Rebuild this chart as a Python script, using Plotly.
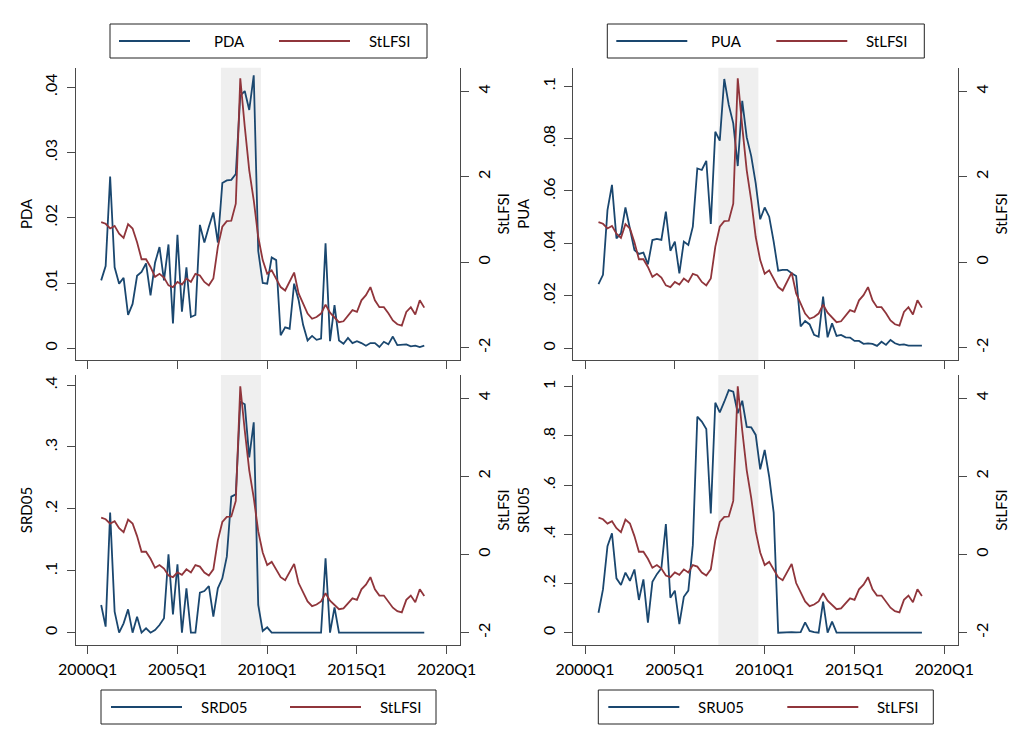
import plotly.graph_objects as go

# ---------------- data (quarterly, 2000Q4 .. 2018Q4) ----------------
quarters = [f"{y}Q{q}" for y in range(2000, 2019) for q in range(1, 5)]
quarters = quarters[quarters.index("2000Q4"):quarters.index("2018Q4") + 1]

stlfsi = [0.94, 0.90, 0.79, 0.85, 0.67, 0.57, 0.89, 0.79, 0.47, 0.07,
          0.07, -0.11, -0.34, -0.27, -0.36, -0.54, -0.58, -0.46, -0.52, -0.38,
          -0.46, -0.27, -0.31, -0.46, -0.54, -0.38, 0.36, 0.83, 0.96, 0.97,
          1.37, 4.30, 3.17, 2.15, 1.45, 0.59, 0.05, -0.27, -0.19, -0.38,
          -0.58, -0.66, -0.43, -0.24, -0.73, -0.97, -1.20, -1.32, -1.28, -1.20,
          -0.99, -1.18, -1.28, -1.40, -1.38, -1.24, -1.12, -1.16, -0.89, -0.77,
          -0.58, -0.89, -1.05, -1.05, -1.19, -1.36, -1.45, -1.48, -1.16, -1.05,
          -1.22, -0.89, -1.06]

pda = [.0104, .0126, .0263, .0124, .0099, .0108, .0051, .0068, .0111, .0117,
       .0130, .0081, .0131, .0155, .0104, .0159, .0038, .0174, .0056, .0124,
       .0048, .0051, .0189, .0162, .0186, .0208, .0162, .0253, .0257, .0258,
       .0267, .0387, .0394, .0365, .0418, .0149, .0100, .0099, .0139, .0135,
       .0020, .0032, .0030, .0099, .0074, .0036, .0012, .0019, .0013, .0015,
       .0161, .0011, .0066, .0012, .0007, .0016, .0008, .0011, .0008, .0004,
       .0008, .0008, .0002, .0010, .0006, .0018, .0005, .0005, .0006, .0003,
       .0004, .0002, .0004]

pua = [.0245, .0280, .0527, .0623, .0419, .0438, .0537, .0451, .0375, .0360,
       .0365, .0320, .0413, .0417, .0413, .0521, .0372, .0407, .0286, .0407,
       .0394, .0464, .0686, .0680, .0715, .0474, .0826, .0792, .1027, .0928,
       .0858, .0695, .0944, .0804, .0733, .0629, .0492, .0537, .0502, .0407,
       .0296, .0299, .0299, .0286, .0276, .0083, .0104, .0091, .0051, .0044,
       .0197, .0042, .0095, .0047, .0051, .0042, .0041, .0028, .0028, .0017,
       .0019, .0017, .0009, .0025, .0013, .0032, .0019, .0013, .0015, .0010,
       .0010, .0008, .0010]

srd05 = [.0447, .0097, .1939, .0339, .0, .0151, .0377, .0, .0258, .0,
         .0070, .0, .0043, .0124, .0232, .1265, .0296, .1104, .0, .0716,
         .0, .0, .0646, .0673, .0754, .0258, .0716, .0878, .1228, .2197,
         .2235, .3732, .3689, .2833, .3398, .0447, .0027, .0086, .0, .0,
         .0, .0, .0, .0, .0, .0, .0, .0, .0, .0,
         .1201, .0, .0409, .0, .0, .0, .0, .0, .0, .0,
         .0, .0, .0, .0, .0, .0, .0, .0, .0, .0,
         .0, .0, .0]

sru05 = [.081, .176, .352, .404, .221, .194, .244, .211, .257, .133,
         .217, .041, .207, .238, .262, .442, .142, .171, .035, .146,
         .171, .356, .878, .858, .828, .485, .935, .896, .939, .986,
         .980, .892, .943, .837, .835, .804, .664, .743, .634, .488,
         .000, .001, .003, .002, .001, .002, .042, .007, .002, .000,
         .126, .000, .045, .000, .000, .000, .000, .000, .000, .000,
         .000, .000, .000, .000, .000, .000, .000, .000, .000, .000,
         .000, .000, .000]

crisis_start, crisis_end = "2007Q3", "2009Q3"
xtick_labels = ["2000Q1", "2005Q1", "2010Q1", "2015Q1", "2020Q1"]


def qnum(label):
    y, q = label.split("Q")
    return int(y) + (int(q) - 1) / 4.0


xq = [qnum(q) for q in quarters]
xtick_vals = [qnum(t) for t in xtick_labels]

# ---------------- styling ----------------
W, H = 1020, 744
BLUE = "#1a476f"
RED = "#90353b"
AX = "#4a4a4a"
FONT = "Lato"

panels = [
    dict(name="PDA", y=pda, tv=[0, .01, .02, .03, .04], tt=["0", ".01", ".02", ".03", ".04"],
         rng=[-0.00179, 0.04297], xd=(76, 460), yd=(67.7, 360), rr=[-2.285, 4.549], bottom=False),
    dict(name="PUA", y=pua, tv=[0, .02, .04, .06, .08, .1], tt=["0", ".02", ".04", ".06", ".08", ".1"],
         rng=[-0.00446, 0.1070], xd=(573.3, 957.7), yd=(67.7, 360), rr=[-2.285, 4.549], bottom=False),
    dict(name="SRD05", y=srd05, tv=[0, .1, .2, .3, .4], tt=["0", ".1", ".2", ".3", ".4"],
         rng=[-0.0199, 0.4163], xd=(76, 460), yd=(375, 645), rr=[-2.314, 4.588], bottom=True),
    dict(name="SRU05", y=sru05, tv=[0, .2, .4, .6, .8, 1], tt=["0", ".2", ".4", ".6", ".8", "1"],
         rng=[-0.05, 1.0476], xd=(573.3, 957.7), yd=(375, 645), rr=[-2.314, 4.588], bottom=True),
]

fig = go.Figure()
layout = dict(width=W, height=H, margin=dict(l=0, r=0, t=0, b=0),
              paper_bgcolor="white", plot_bgcolor="white", showlegend=False,
              font=dict(family=FONT, size=15, color="black"))
shapes = []
annotations = []

xrange = [1999.348, 2020.741]

for k, p in enumerate(panels):
    xi = k + 1
    yl = 2 * k + 1
    yr = 2 * k + 2
    xname = "x" if xi == 1 else f"x{xi}"
    ylname = "y" if yl == 1 else f"y{yl}"
    yrname = f"y{yr}"
    xkey = "xaxis" if xi == 1 else f"xaxis{xi}"
    ylkey = "yaxis" if yl == 1 else f"yaxis{yl}"
    yrkey = f"yaxis{yr}"

    xdom = [p["xd"][0] / W, p["xd"][1] / W]
    ydom = [1 - p["yd"][1] / H, 1 - p["yd"][0] / H]

    layout[xkey] = dict(domain=xdom, range=xrange, anchor=ylname,
                        tickmode="array", tickvals=xtick_vals, ticktext=xtick_labels,
                        showticklabels=p["bottom"], showline=True, linecolor=AX, linewidth=1.3,
                        ticks="outside", ticklen=8, tickcolor=AX, tickwidth=1.3,
                        ticklabelstandoff=2,
                        showgrid=False, zeroline=False, automargin=False,
                        tickfont=dict(size=16, family=FONT, color="black"))
    layout[ylkey] = dict(domain=ydom, range=p["rng"], anchor=xname,
                         tickmode="array", tickvals=p["tv"], ticktext=p["tt"], tickangle=-90,
                         showline=True, linecolor=AX, linewidth=1.3,
                         ticks="outside", ticklen=8, tickcolor=AX, tickwidth=1.3,
                         ticklabelstandoff=3,
                         showgrid=False, zeroline=False, automargin=False,
                         tickfont=dict(size=16, family=FONT, color="black"),
                         title=dict(text=p["name"], font=dict(size=15, family=FONT, color="black"),
                                    standoff=5))
    layout[yrkey] = dict(range=p["rr"], anchor=xname, overlaying=ylname, side="right",
                         tickmode="array", tickvals=[-2, 0, 2, 4], ticktext=["-2", "0", "2", "4"],
                         tickangle=-90, showline=True, linecolor=AX, linewidth=1.3,
                         ticks="outside", ticklen=8, tickcolor=AX, tickwidth=1.3,
                         ticklabelstandoff=2,
                         showgrid=False, zeroline=False, automargin=False,
                         tickfont=dict(size=16, family=FONT, color="black"),
                         title=dict(text="StLFSI", font=dict(size=15, family=FONT, color="black"),
                                    standoff=6))

    # crisis shading
    shapes.append(dict(type="rect", xref=xname, yref=f"{ylname} domain",
                       x0=qnum(crisis_start) - 0.08, x1=qnum(crisis_end) + 0.15, y0=0, y1=1,
                       fillcolor="#efefef", line=dict(width=0), layer="below"))

    fig.add_trace(go.Scatter(x=xq, y=p["y"], mode="lines", name=p["name"],
                             line=dict(color=BLUE, width=1.8), xaxis=xname, yaxis=ylname))
    fig.add_trace(go.Scatter(x=xq, y=stlfsi, mode="lines", name="StLFSI",
                             line=dict(color=RED, width=1.8), xaxis=xname, yaxis=yrname))

    # legend box (manual, Stata style)
    off = 0 if k in (0, 2) else 497.3
    if not p["bottom"]:
        bx0, bx1, by0, by1 = 110, 427, 24, 58
        k1, t1, k2, t2 = (119, 190), 212, (279, 350), 367
    else:
        bx0, bx1, by0, by1 = 101, 436, 690, 724
        k1, t1, k2, t2 = (111, 182), 199, (290, 361), 378
    cy = (by0 + by1) / 2
    shapes.append(dict(type="rect", xref="paper", yref="paper",
                       x0=(bx0 + off) / W, x1=(bx1 + off) / W,
                       y0=1 - by1 / H, y1=1 - by0 / H,
                       line=dict(color="#222222", width=1), fillcolor="white", layer="above"))
    for (a, b), col in ((k1, BLUE), (k2, RED)):
        shapes.append(dict(type="line", xref="paper", yref="paper",
                           x0=(a + off) / W, x1=(b + off) / W, y0=1 - cy / H, y1=1 - cy / H,
                           line=dict(color=col, width=2), layer="above"))
    for tx, txt in ((t1, p["name"]), (t2, "StLFSI")):
        annotations.append(dict(xref="paper", yref="paper", x=(tx + off) / W, y=1 - cy / H,
                                text=txt, showarrow=False, xanchor="left", yanchor="middle",
                                font=dict(size=15, family=FONT, color="black")))

layout["shapes"] = shapes
layout["annotations"] = annotations
fig.update_layout(**layout)
fig.write_html("out.html")
